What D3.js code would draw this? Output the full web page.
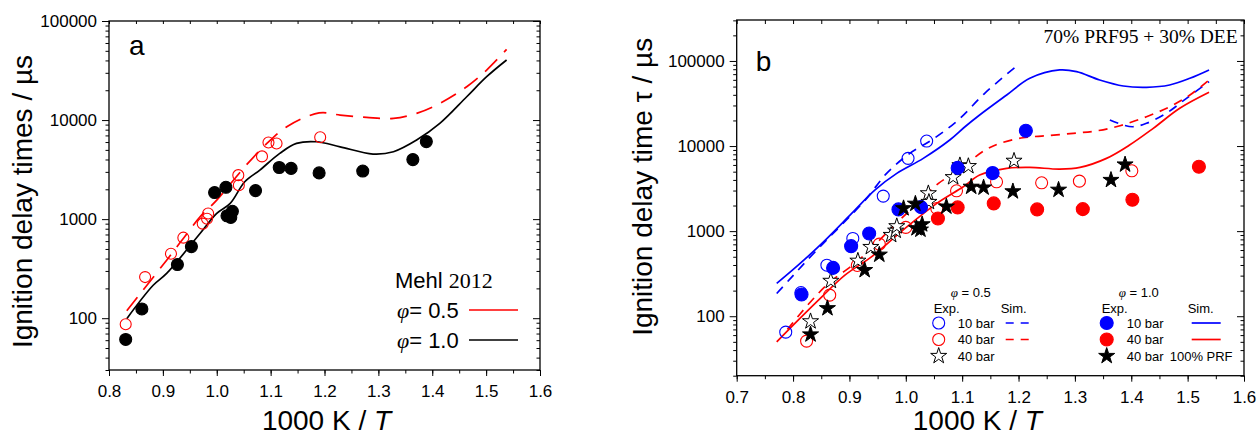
<!DOCTYPE html>
<html>
<head>
<meta charset="utf-8">
<script src="https://cdn.jsdelivr.net/npm/d3@7"></script>
<style>
  body { margin: 0; background: #fff; }
  svg { display: block; font-family: "Liberation Sans", Arial, sans-serif; }
</style>
</head>
<body>
<div id="chart"></div>
<script>
// measured data, 100% PRF (shared by both panels)
const prfPhi05 = [[0.831, 87], [0.867, 260], [0.915, 448], [0.938, 650], [0.974, 900], [0.982, 1010], [0.984, 1140],
  [1.040, 2780], [1.041, 2200], [1.084, 4300], [1.096, 5930], [1.111, 5800], [1.192, 6700]];
const prfPhi10 = [[0.831, 61], [0.861, 124], [0.927, 348], [0.953, 528], [0.996, 1855], [1.017, 2095], [1.019, 1080],
  [1.026, 1040], [1.029, 1200], [1.072, 1940], [1.116, 3320], [1.138, 3250], [1.190, 2930], [1.271, 3060],
  [1.364, 3990], [1.389, 6060]];

// Mehl 2012 simulations (panel a)
const mehlPhi05 = [[0.833, 119], [0.858, 177], [0.907, 385], [0.939, 650], [0.969, 1055], [1.000, 1556], [1.052, 3378],
  [1.093, 5810], [1.130, 8560], [1.190, 11800], [1.229, 11230], [1.278, 10640], [1.328, 10400], [1.371, 11690],
  [1.414, 14750], [1.464, 21700], [1.501, 32000], [1.538, 51800]];
const mehlPhi10 = [[0.833, 99], [0.882, 215], [0.907, 283], [0.969, 716], [1.000, 1141], [1.025, 1440], [1.052, 2382],
  [1.080, 3126], [1.117, 4610], [1.148, 5810], [1.185, 6040], [1.229, 5370], [1.290, 4540], [1.328, 4790],
  [1.371, 6280], [1.414, 9250], [1.464, 17200], [1.501, 27400], [1.538, 40400]];

// 70% PRF95 + 30% DEE, experiments (panel b)
const exp10Phi05 = [[0.787, 65], [0.814, 190], [0.860, 398], [0.906, 820], [0.960, 2580], [1.004, 7170], [1.037, 11450]];
const exp10Phi10 = [[0.815, 180], [0.871, 370], [0.903, 666], [0.935, 940], [0.987, 1800], [1.027, 1915], [1.092, 5540],
  [1.154, 4810], [1.213, 15140]];
const exp40Phi05 = [[0.824, 51], [0.865, 177], [0.914, 395], [0.953, 703], [1.000, 1106], [1.055, 1849], [1.090, 2980],
  [1.161, 3800], [1.241, 3700], [1.308, 3870], [1.401, 5120]];
const exp40Phi10 = [[1.057, 1410], [1.092, 1900], [1.156, 2118], [1.233, 1800], [1.314, 1814], [1.402, 2336], [1.520, 5710]];

// simulations (panel b)
const sim10Phi10 = [[0.771, 243], [0.809, 398], [0.854, 748], [0.904, 1615], [0.945, 3037], [0.984, 4775], [1.031, 7166],
  [1.078, 11770], [1.105, 16870], [1.131, 23170], [1.179, 39800], [1.220, 62560], [1.273, 78400], [1.303, 74850],
  [1.344, 59750], [1.386, 50800], [1.427, 49060], [1.468, 52200], [1.504, 62560], [1.538, 78400]];
const sim10Phi05a = [[0.771, 185], [0.798, 290], [0.839, 571], [0.928, 2317], [0.966, 4775], [1.007, 8205], [1.046, 11770],
  [1.093, 20230], [1.140, 41690], [1.193, 83400]];
const sim10Phi05b = [[1.362, 20230], [1.386, 17660], [1.403, 16870], [1.427, 18500], [1.462, 24260], [1.498, 36400], [1.538, 57080]];
const sim40Phi10 = [[0.771, 50], [0.809, 90], [0.851, 169], [0.892, 304], [0.939, 499], [0.995, 1028], [1.055, 2118],
  [1.102, 3320], [1.131, 4560], [1.179, 5470], [1.220, 5610], [1.273, 5360], [1.309, 5610], [1.356, 7166],
  [1.397, 10280], [1.439, 16150], [1.486, 27770], [1.538, 42840]];
const sim40Phi05 = [[0.790, 70], [0.830, 145], [0.865, 250], [0.914, 440], [0.953, 780], [0.984, 1250], [1.020, 2100],
  [1.058, 3640], [1.090, 5000], [1.140, 8900], [1.167, 10760], [1.208, 12520], [1.250, 13220], [1.297, 14120],
  [1.338, 15060], [1.380, 17330], [1.427, 22130], [1.468, 28960], [1.504, 39810], [1.538, 59750]];

const xTicksA = [0.8, 0.9, 1.0, 1.1, 1.2, 1.3, 1.4, 1.5, 1.6];
const xTicksB = [0.7, 0.8, 0.9, 1.0, 1.1, 1.2, 1.3, 1.4, 1.5, 1.6];
const yTicks = [100, 1000, 10000, 100000];

const RED = "#ff0000", BLUE = "#0000ff";

var svg = d3.select("#chart").append("svg").attr("width", 1257).attr("height", 436);

function minorLog(lo, hi) {
  var out = [];
  for (var e = 1; e <= 6; e++) {
    for (var m = 2; m <= 9; m++) {
      var v = m * Math.pow(10, e);
      if (v >= lo && v <= hi) out.push(v);
    }
  }
  return out;
}

function panel(opt) {
  var g = svg.append("g").attr("transform", "translate(" + opt.left + "," + opt.top + ")");
  var w = opt.width, h = opt.height;
  var x = d3.scaleLinear().domain(opt.xdom).range([0, w]);
  var y = d3.scaleLog().domain(opt.ydom).range([h, 0]);
  var xMinor = d3.range(opt.xdom[0], opt.xdom[1] + 1e-9, 0.05).map(v => +v.toFixed(2));

  // bottom axis
  g.append("g").attr("transform", "translate(0," + h + ")")
    .call(d3.axisBottom(x).tickValues(xMinor).tickSize(3.5).tickFormat(""));
  g.append("g").attr("class", "lab").attr("transform", "translate(0," + h + ")")
    .call(d3.axisBottom(x).tickValues(opt.xticks).tickSize(6).tickPadding(9).tickFormat(d3.format(".1f")));
  // top axis, inward
  g.append("g").call(d3.axisTop(x).tickValues(xMinor).tickSize(-opt.topTick).tickFormat(""));
  // left axis
  g.append("g").call(d3.axisLeft(y).tickValues(minorLog(opt.ydom[0], opt.ydom[1])).tickSize(3.5).tickFormat(""));
  g.append("g").attr("class", "lab")
    .call(d3.axisLeft(y).tickValues(yTicks).tickSize(7).tickPadding(5).tickFormat(d3.format("d")));
  // right axis, inward
  g.append("g").attr("transform", "translate(" + w + ",0)")
    .call(d3.axisRight(y).tickValues(minorLog(opt.ydom[0], opt.ydom[1])).tickSize(-3.5).tickFormat(""));
  g.append("g").attr("transform", "translate(" + w + ",0)")
    .call(d3.axisRight(y).tickValues(yTicks).tickSize(-7).tickFormat(""));

  g.selectAll(".domain").remove();
  g.selectAll(".tick line").attr("stroke", "#000").attr("stroke-width", 1);
  g.selectAll(".lab text").attr("font-size", 17).attr("fill", "#000")
    .attr("font-family", "Liberation Sans, Arial, sans-serif");

  g.append("rect").attr("width", w).attr("height", h)
    .attr("fill", "none").attr("stroke", "#000").attr("stroke-width", 1.3);

  // axis titles
  var xt = g.append("text").attr("x", w / 2 + opt.xTitleDx).attr("y", 430 - opt.top)
    .attr("text-anchor", "middle").attr("font-size", 28);
  xt.append("tspan").text("1000 K / ");
  xt.append("tspan").attr("font-style", "italic").text("T");

  g.append("text")
    .attr("transform", "translate(" + opt.yTitleX + "," + (h / 2 + opt.yTitleDy) + ") rotate(-90)")
    .attr("text-anchor", "middle").attr("font-size", 28).text(opt.yTitle);

  g.append("text").attr("x", opt.letter[1]).attr("y", opt.letter[2])
    .attr("font-size", 28).text(opt.letter[0]);

  return { g: g, x: x, y: y };
}

function drawLine(p, data, color, dash) {
  var line = d3.line().x(d => p.x(d[0])).y(d => p.y(d[1])).curve(d3.curveCatmullRom.alpha(0.5));
  p.g.append("path").datum(data).attr("d", line)
    .attr("fill", "none").attr("stroke", color).attr("stroke-width", 1.7)
    .attr("stroke-dasharray", dash || null);
}

function drawCircles(p, data, color, filled, r) {
  p.g.append("g").selectAll("circle").data(data).enter().append("circle")
    .attr("cx", d => p.x(d[0])).attr("cy", d => p.y(d[1])).attr("r", r)
    .attr("fill", filled ? color : "none").attr("stroke", color).attr("stroke-width", 1.1);
}

function drawStars(p, data, filled) {
  var star = d3.symbol().type(d3.symbolStar).size(80);
  p.g.append("g").selectAll("path").data(data).enter().append("path")
    .attr("d", star)
    .attr("transform", d => "translate(" + p.x(d[0]) + "," + p.y(d[1]) + ")")
    .attr("fill", filled ? "#000" : "#fff").attr("stroke", "#000").attr("stroke-width", 1);
}

// ---------- panel a ----------
var pa = panel({
  left: 109, top: 21, width: 431, height: 349,
  xdom: [0.8, 1.6], ydom: [30, 100000], xticks: xTicksA, topTick: 3,
  xTitleDx: 2, yTitleX: -77, yTitleDy: 6,
  yTitle: "Ignition delay times / \u00b5s", letter: ["a", 20, 34]
});
drawLine(pa, mehlPhi05, RED, "17,10");
drawLine(pa, mehlPhi10, "#000");
drawCircles(pa, prfPhi05, RED, false, 5.5);
drawCircles(pa, prfPhi10, "#000", true, 6);

// legend a
var la = pa.g.append("g").attr("transform", "translate(286,0)").attr("font-size", 22);
var lt = la.append("text").attr("x", 0).attr("y", 267);
lt.append("tspan").text("Mehl ");
lt.append("tspan").attr("font-family", "Liberation Serif, Times New Roman, serif").text("2012");
[["0.5", RED, 297], ["1.0", "#000", 327]].forEach(function (r) {
  var t = la.append("text").attr("x", 2).attr("y", r[2]);
  t.append("tspan").attr("font-family", "Liberation Serif, serif").attr("font-style", "italic").text("\u03c6");
  t.append("tspan").text("= " + r[0]);
  la.append("line").attr("x1", 74).attr("x2", 123).attr("y1", r[2] - 8).attr("y2", r[2] - 8)
    .attr("stroke", r[1]).attr("stroke-width", 1.7);
});

// ---------- panel b ----------
var pb = panel({
  left: 736.7, top: 20, width: 507.3, height: 355.7,
  xdom: [0.7, 1.6], ydom: [20, 303000], xticks: xTicksB, topTick: 4,
  xTitleDx: -13, yTitleX: -85, yTitleDy: -11,
  yTitle: "Ignition delay time \u03c4 / \u00b5s", letter: ["b", 19, 51]
});
drawLine(pb, sim10Phi10, BLUE);
drawLine(pb, sim10Phi05a, BLUE, "9,7");
drawLine(pb, sim10Phi05b, BLUE, "9,7");
drawLine(pb, sim40Phi10, RED);
drawLine(pb, sim40Phi05, RED, "9,7");
drawCircles(pb, exp10Phi05, BLUE, false, 6);
drawCircles(pb, exp40Phi05, RED, false, 6);
drawStars(pb, prfPhi05, false);
drawCircles(pb, exp10Phi10, BLUE, true, 6.5);
drawCircles(pb, exp40Phi10, RED, true, 6.5);
drawStars(pb, prfPhi10, true);

pb.g.append("text").attr("x", 501).attr("y", 23).attr("text-anchor", "end")
  .attr("font-family", "Liberation Serif, Times New Roman, serif").attr("font-size", 19.5)
  .text("70% PRF95 + 30% DEE");

// legend b
var lb = pb.g.append("g").attr("font-size", 13);
function legHead(x0, phi) {
  var t = lb.append("text").attr("x", x0 + 12).attr("y", 277);
  t.append("tspan").attr("font-family", "Liberation Serif, serif").attr("font-style", "italic").text("\u03c6");
  t.append("tspan").text(" = " + phi);
  lb.append("text").attr("x", x0 - 5).attr("y", 293).text("Exp.");
}
legHead(202, "0.5");
legHead(370, "1.0");
lb.append("text").attr("x", 264).attr("y", 293).text("Sim.");
lb.append("text").attr("x", 451).attr("y", 293).text("Sim.");
var rows = [303, 319.5, 336];
var lgCirc = [[202, rows[0], BLUE, false], [202, rows[1], RED, false], [370, rows[0], BLUE, true], [370, rows[1], RED, true]];
lgCirc.forEach(function (c) {
  lb.append("circle").attr("cx", c[0]).attr("cy", c[1]).attr("r", c[3] ? 6.5 : 6)
    .attr("fill", c[3] ? c[2] : "none").attr("stroke", c[2]).attr("stroke-width", 1.1);
});
[[202, false], [370, true]].forEach(function (s) {
  lb.append("path").attr("d", d3.symbol().type(d3.symbolStar).size(80))
    .attr("transform", "translate(" + s[0] + "," + rows[2] + ")")
    .attr("fill", s[1] ? "#000" : "#fff").attr("stroke", "#000");
});
[[221, 0], [221, 1], [221, 2], [390, 0], [390, 1], [390, 2]].forEach(function (r) {
  lb.append("text").attr("x", r[0]).attr("y", rows[r[1]] + 4.5).text((r[1] === 0 ? "10" : "40") + " bar");
});
lb.append("text").attr("x", 433).attr("y", rows[2] + 4.5).text("100% PRF");
[[BLUE, rows[0]], [RED, rows[1]]].forEach(function (r) {
  lb.append("line").attr("x1", 269).attr("x2", 295).attr("y1", r[1]).attr("y2", r[1])
    .attr("stroke", r[0]).attr("stroke-width", 1.7).attr("stroke-dasharray", "8,7");
  lb.append("line").attr("x1", 455).attr("x2", 484).attr("y1", r[1]).attr("y2", r[1])
    .attr("stroke", r[0]).attr("stroke-width", 1.7);
});
</script>
</body>
</html>
